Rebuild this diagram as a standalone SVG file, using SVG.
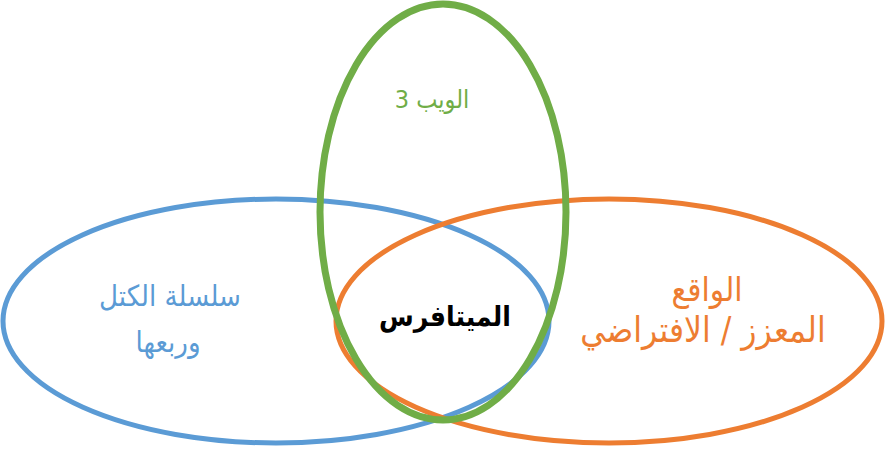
<svg xmlns="http://www.w3.org/2000/svg" width="885" height="449" viewBox="0 0 885 449">
<style>
.ring{fill:none}
.lbl{font-family:"DejaVu Sans Condensed","DejaVu Sans",sans-serif;text-anchor:middle;direction:rtl}
</style>
<rect width="885" height="449" fill="#ffffff"/>
<g id="blockchain">
<ellipse class="ring" cx="276" cy="321" rx="273" ry="122" stroke="#5B9BD5" stroke-width="5"/>
<text class="lbl" x="170" y="306" font-size="29" fill="#5B9BD5">سلسلة الكتل</text>
<text class="lbl" x="168" y="352" font-size="29" fill="#5B9BD5">وربعها</text>
</g>
<g id="arvr">
<ellipse class="ring" cx="609" cy="321" rx="273" ry="122" stroke="#ED7D31" stroke-width="5"/>
<text class="lbl" x="707" y="301" font-size="33" fill="#ED7D31">الواقع</text>
<text class="lbl" x="703" y="342" font-size="35" fill="#ED7D31">المعزز / الافتراضي</text>
</g>
<g id="web3">
<ellipse class="ring" cx="443" cy="212" rx="123" ry="208" stroke="#70AD47" stroke-width="7"/>
<text class="lbl" x="432" y="108" font-size="25" fill="#70AD47">الويب 3</text>
</g>
<g id="metaverse">
<text class="lbl" x="445" y="326" font-size="28" font-weight="bold" fill="#000000">الميتافرس</text>
</g>
<g id="connectors"></g>
</svg>
